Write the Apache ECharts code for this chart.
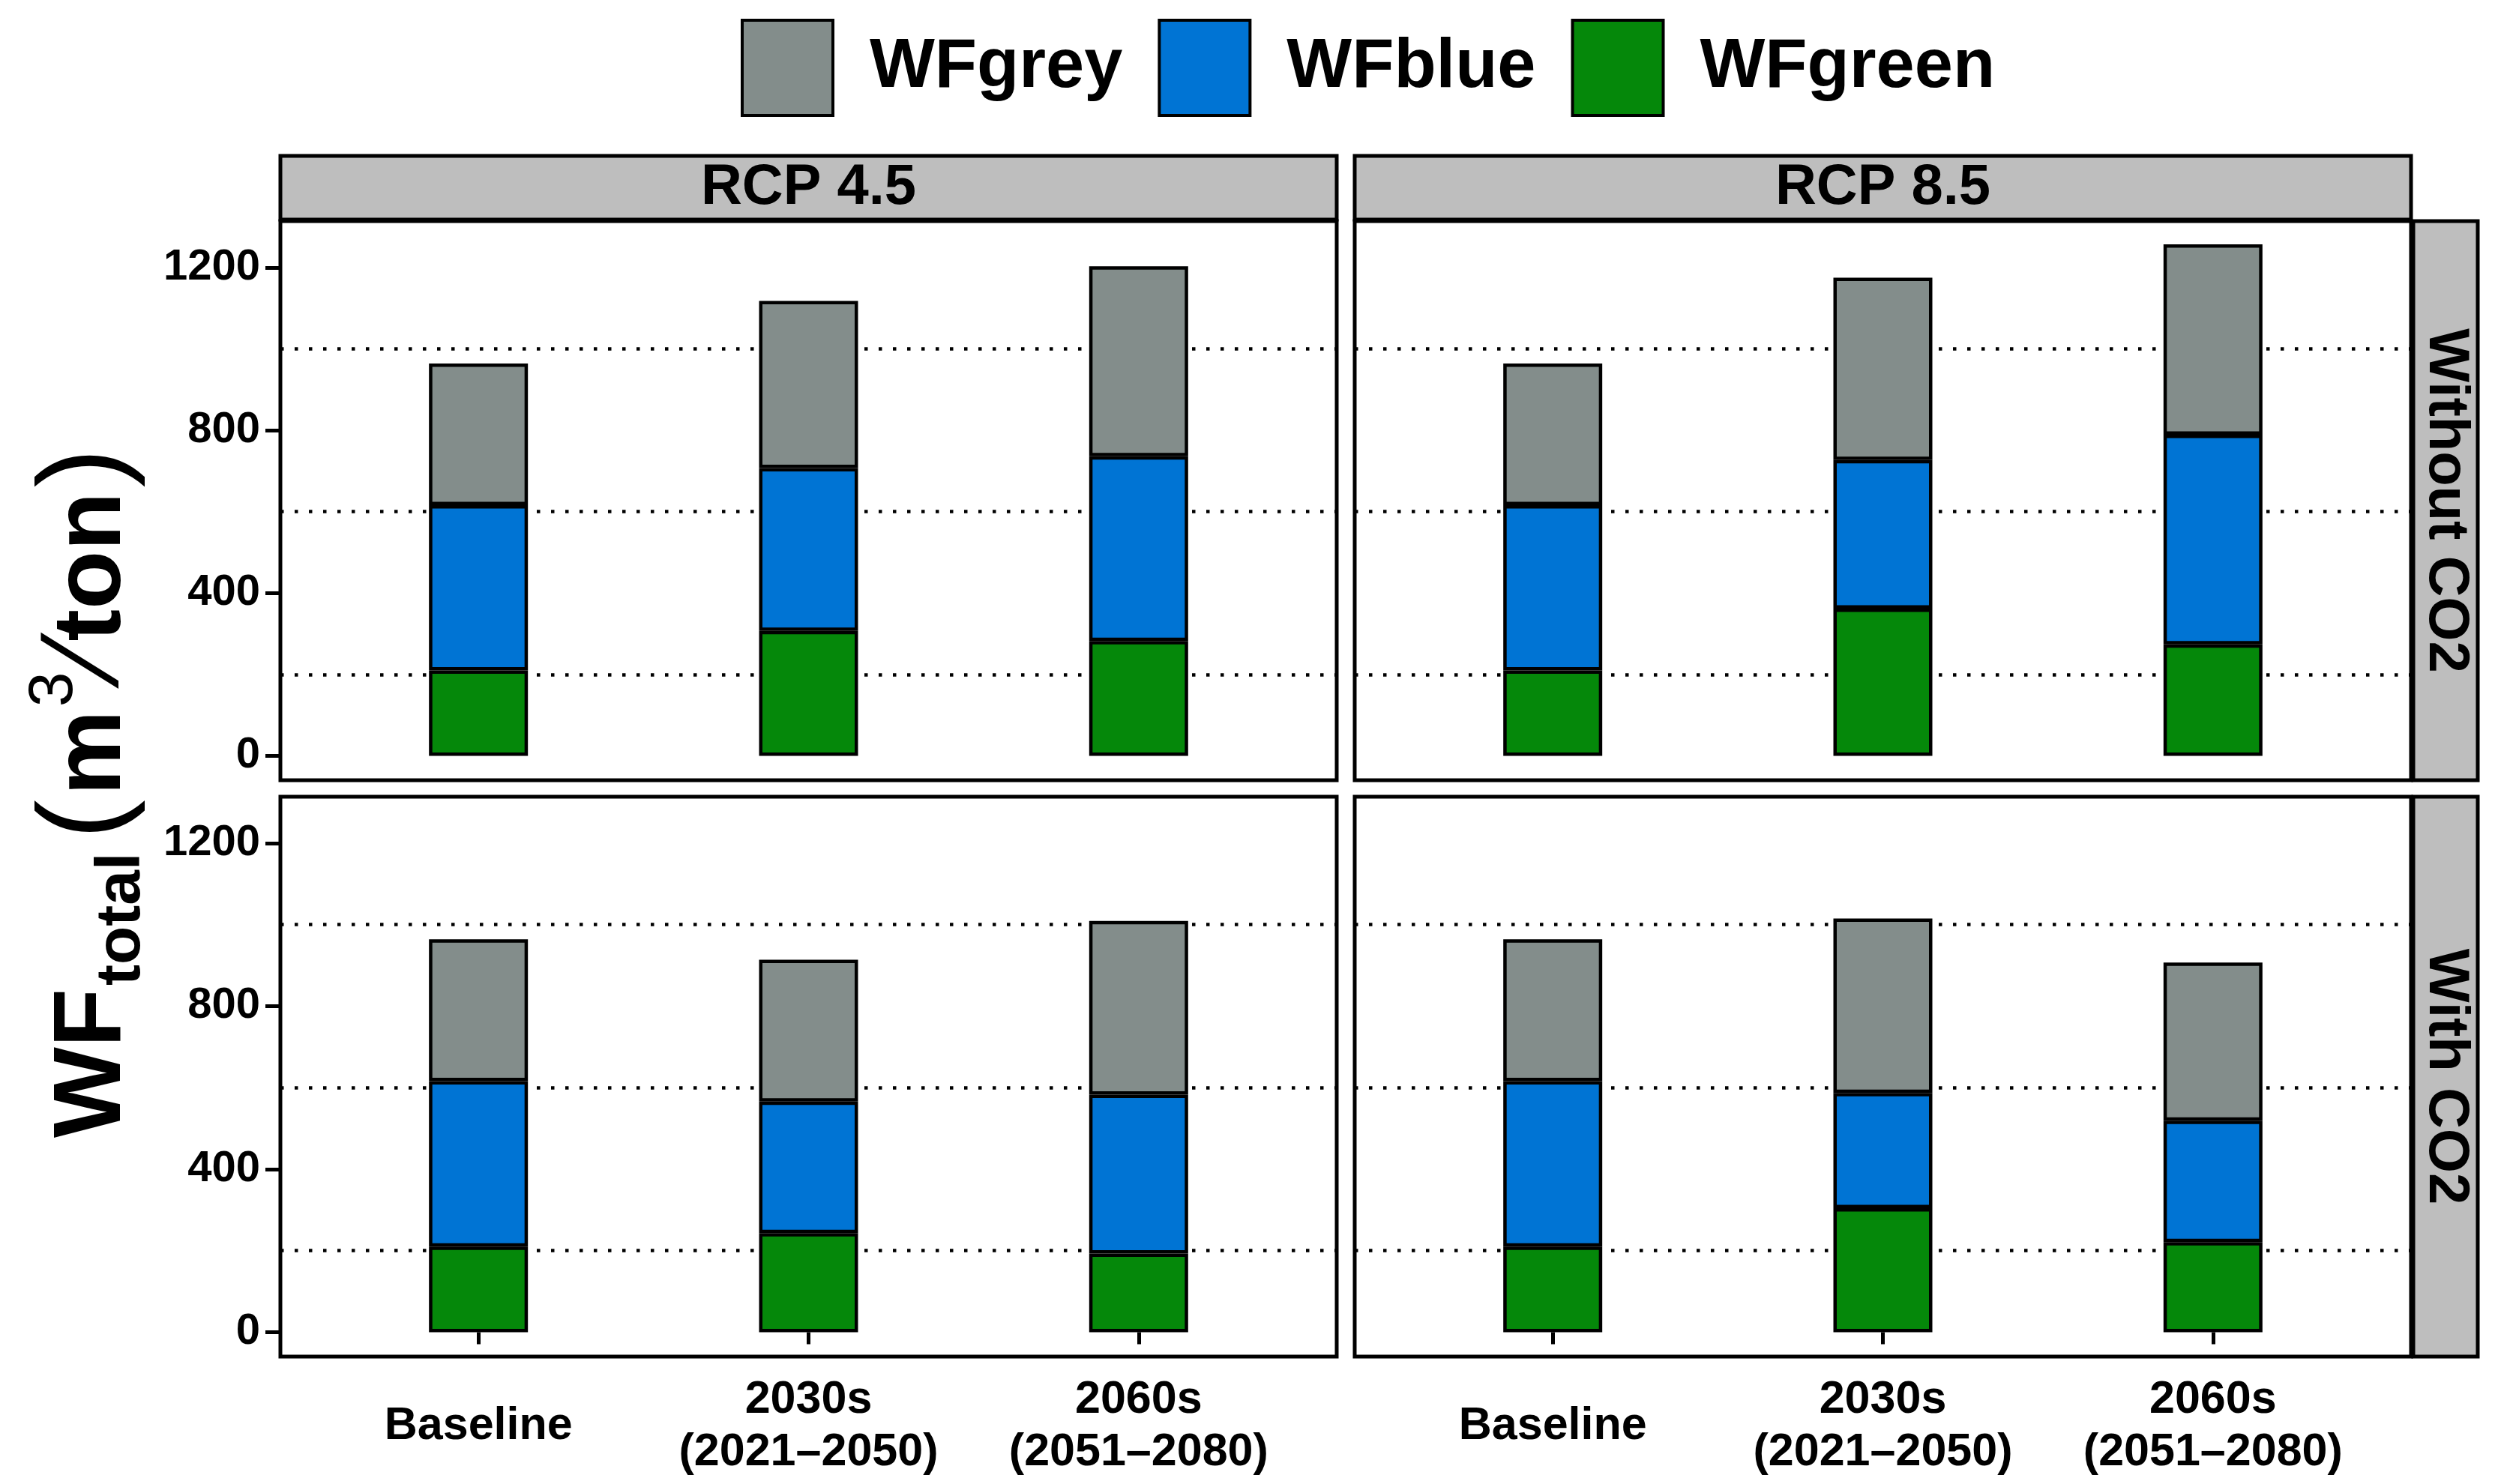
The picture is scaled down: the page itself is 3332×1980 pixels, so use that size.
<!DOCTYPE html>
<html><head><meta charset="utf-8">
<script src="https://cdn.jsdelivr.net/npm/echarts@6/dist/echarts.min.js"></script>
<style>html,body{margin:0;padding:0;background:#fff}#c{width:3332px;height:1980px}</style>
</head><body><div id="c"></div>
<script>
// ---- data ----
const categories = ['Baseline', '2030s\n(2021–2050)', '2060s\n(2051–2080)'];
const yTicks = [0, 400, 800, 1200];
const gridLineValues = [200, 600, 1000];
const colTitles = ['RCP 4.5', 'RCP 8.5'];
const rowTitles = ['Without CO2', 'With CO2'];
const legendOrder = ['WFgrey', 'WFblue', 'WFgreen'];
const stackOrder = ['WFgreen', 'WFblue', 'WFgrey'];

// segment values (m3/ton): RCP4.5 without CO2
const rcp45_noco2_green = [210, 307, 282];
const rcp45_noco2_blue  = [406, 400, 454];
const rcp45_noco2_grey  = [348, 411, 467];
// RCP8.5 without CO2
const rcp85_noco2_green = [210, 362, 274];
const rcp85_noco2_blue  = [406, 365, 515];
const rcp85_noco2_grey  = [348, 448, 468];
// RCP4.5 with CO2
const rcp45_co2_green = [210, 243, 193];
const rcp45_co2_blue  = [406, 323, 390];
const rcp45_co2_grey  = [348, 348, 426];
// RCP8.5 with CO2
const rcp85_co2_green = [210, 304, 221];
const rcp85_co2_blue  = [406, 283, 298];
const rcp85_co2_grey  = [348, 428, 388];

const panels = [
  {row: 0, col: 0, v: {WFgreen: rcp45_noco2_green, WFblue: rcp45_noco2_blue, WFgrey: rcp45_noco2_grey}},
  {row: 0, col: 1, v: {WFgreen: rcp85_noco2_green, WFblue: rcp85_noco2_blue, WFgrey: rcp85_noco2_grey}},
  {row: 1, col: 0, v: {WFgreen: rcp45_co2_green, WFblue: rcp45_co2_blue, WFgrey: rcp45_co2_grey}},
  {row: 1, col: 1, v: {WFgreen: rcp85_co2_green, WFblue: rcp85_co2_blue, WFgrey: rcp85_co2_grey}}
];

// ---- style / layout ----
const F = '"Liberation Sans", Arial, Helvetica, sans-serif';
const colors = {WFgreen: '#05880A', WFblue: '#0074D4', WFgrey: '#838D8B'};
const PL = [374, 1807], PW = 1409;
const PT = [295, 1063], PH = [746, 747];
const Y_MIN = -60, Y_MAX = 1314;
const UNIT = PW / 3.2;            // one category step (ggplot discrete expansion 0.6)

const grids = [], xAxes = [], yAxes = [], series = [];
// frame grids (border, y labels, dotted reference lines)
panels.forEach((p, i) => {
  grids.push({left: PL[p.col], top: PT[p.row], width: PW, height: PH[p.row],
    show: true, borderColor: '#000', borderWidth: 5, backgroundColor: '#fff'});
  xAxes.push({gridIndex: i, type: 'value', min: 0.4, max: 3.6, show: false});
  yAxes.push({gridIndex: i, type: 'value', min: Y_MIN, max: Y_MAX, show: p.col === 0,
    axisLine: {show: false}, splitLine: {show: false},
    axisTick: {show: true, customValues: yTicks, length: 20, lineStyle: {color: '#000', width: 5}},
    axisLabel: {show: true, customValues: yTicks, formatter: v => String(v), fontSize: 58, fontWeight: 'bold',
      color: '#000', fontFamily: F, margin: 27}});
  series.push({type: 'line', name: 'ref' + i, xAxisIndex: i, yAxisIndex: i, data: [],
    silent: true, animation: false, z: 1,
    markLine: {silent: true, symbol: 'none', z: 1, animation: false,
      label: {show: false},
      lineStyle: {color: '#000', width: 4.5, type: [4.5, 14.5]},
      data: gridLineValues.map(v => ({yAxis: v}))}});
});
// data grids (category bands)
panels.forEach((p, j) => {
  const i = j + 4;
  grids.push({left: PL[p.col] + 0.1 * UNIT, top: PT[p.row], width: 3 * UNIT, height: PH[p.row], show: false});
  xAxes.push({gridIndex: i, type: 'category', data: categories, show: p.row === 1,
    axisLine: {show: false}, splitLine: {show: false},
    axisTick: {show: true, alignWithLabel: true, interval: 0, length: 16, lineStyle: {color: '#000', width: 5}},
    axisLabel: {show: true, interval: 0, fontSize: 61, fontWeight: 'bold', color: '#000', fontFamily: F,
      lineHeight: 70, verticalAlign: 'middle', margin: 93}});
  yAxes.push({gridIndex: i, type: 'value', min: Y_MIN, max: Y_MAX, show: false, splitLine: {show: false}});
  stackOrder.forEach(name => {
    series.push({type: 'bar', name: name, xAxisIndex: i, yAxisIndex: i, stack: 'p' + i,
      barWidth: 132, z: 2, animation: false,
      itemStyle: {color: colors[name], borderColor: '#000', borderWidth: 4.5},
      data: p.v[name]});
  });
});

const graphics = [];
colTitles.forEach((t, c) => {
  graphics.push({type: 'rect', z: 10, shape: {x: PL[c], y: 208, width: PW, height: 85},
    style: {fill: '#BEBEBE', stroke: '#000', lineWidth: 5}});
  graphics.push({type: 'text', z: 11, x: PL[c] + PW / 2, y: 251,
    style: {text: t, font: 'bold 76px ' + F, fill: '#000', align: 'center', verticalAlign: 'middle',
      textAlign: 'center', textVerticalAlign: 'middle'}});
});
rowTitles.forEach((t, r) => {
  graphics.push({type: 'rect', z: 10, shape: {x: 3219, y: PT[r], width: 86, height: PH[r]},
    style: {fill: '#BEBEBE', stroke: '#000', lineWidth: 5}});
  graphics.push({type: 'text', z: 11, x: 3262, y: PT[r] + PH[r] / 2, rotation: -Math.PI / 2,
    style: {text: t, font: 'bold 76px ' + F, fill: '#000', align: 'center', verticalAlign: 'middle',
      textAlign: 'center', textVerticalAlign: 'middle'}});
});
// y-axis title
graphics.push({type: 'text', z: 11, x: 125, y: 1058, rotation: Math.PI / 2,
  style: {text: '{a|WF}{b|total}{o|(}{a|m}{c|3}{s|⁄}{a|ton}{q|)}',
    align: 'center', verticalAlign: 'middle', textAlign: 'center', textVerticalAlign: 'middle',
    fill: '#000',
    rich: {
      a: {fontSize: 128, fontWeight: 'bold', fontFamily: F, fill: '#000', verticalAlign: 'middle'},
      b: {fontSize: 84, fontWeight: 'bold', fontFamily: F, fill: '#000', verticalAlign: 'middle', padding: [76, 0, 0, 4]},
      c: {fontSize: 84, fontWeight: 'normal', fontFamily: F, fill: '#000', verticalAlign: 'middle', padding: [0, 0, 104, 4]},
      s: {fontSize: 150, fontWeight: 'normal', fontFamily: F, fill: '#000', verticalAlign: 'middle', padding: [0, 8, 16, 8]},
      o: {fontSize: 158, fontWeight: 'normal', fontFamily: F, fill: '#000', verticalAlign: 'middle', padding: [0, 6, 18, 18]},
      q: {fontSize: 158, fontWeight: 'normal', fontFamily: F, fill: '#000', verticalAlign: 'middle', padding: [0, 0, 18, 6]}
    }}});

const chart = echarts.init(document.getElementById('c'), null, {renderer: 'canvas'});
chart.setOption({
  backgroundColor: '#fff',
  animation: false,
  legend: {data: legendOrder, left: 988, top: 25, padding: 0, itemWidth: 121, itemHeight: 127,
    itemGap: 47, icon: 'rect', selectedMode: false,
    itemStyle: {borderColor: '#000', borderWidth: 4},
    textStyle: {fontSize: 92, fontWeight: 'bold', color: '#000', fontFamily: F, padding: [0, 0, 0, 44]}},
  grid: grids, xAxis: xAxes, yAxis: yAxes, series: series, graphic: graphics
});
</script></body></html>
